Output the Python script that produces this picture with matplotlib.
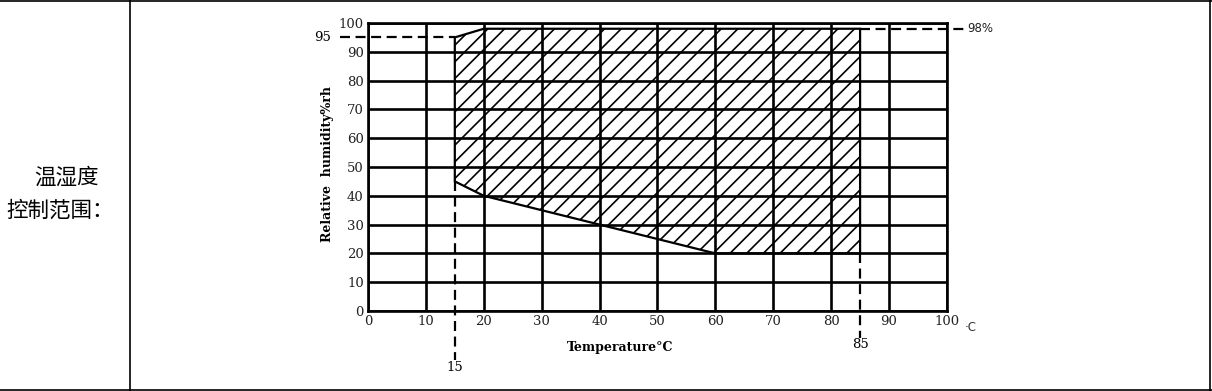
import matplotlib.pyplot as plt
from matplotlib.patches import Polygon

# Range boundary (temperature, humidity)
temp = [15, 15, 20, 85, 85, 60, 40, 20]
rh = [45, 95, 98, 98, 20, 20, 30, 40]

x_ticks = [0, 10, 20, 30, 40, 50, 60, 70, 80, 90, 100]
y_ticks = [0, 10, 20, 30, 40, 50, 60, 70, 80, 90, 100]

row_title = ['温湿度', '控制范围：']

serif = 'DejaVu Serif'

fig = plt.figure(figsize=(12.12, 3.91), dpi=100)

# Table frame (pixel coordinates)
bg = fig.add_axes([0, 0, 1, 1])
bg.set_xlim(0, 1212)
bg.set_ylim(391, 0)
bg.axis('off')
bg.plot([0, 1212], [0.8, 0.8], color='black', lw=1.2)
bg.plot([0, 1212], [389.5, 389.5], color='black', lw=1.2)
bg.plot([1210, 1210], [0, 391], color='black', lw=1.2)
bg.plot([130, 130], [0, 391], color='black', lw=1.2)
bg.text(66, 178, row_title[0], fontsize=15.5, ha='center', va='center',
        family=['Noto Sans CJK SC', 'DejaVu Sans'])
bg.text(60, 211, row_title[1], fontsize=15.5, ha='center', va='center',
        family=['Noto Sans CJK SC', 'DejaVu Sans'])

# Chart
ax = fig.add_axes([0.3036, 0.2046, 0.4777, 0.7366])
ax.set_xlim(0, 100)
ax.set_ylim(0, 100)
ax.set_xticks(x_ticks)
ax.set_yticks(y_ticks)
ax.tick_params(length=0, pad=3, labelsize=9.5, labelcolor='#222222')
for lab in ax.get_xticklabels() + ax.get_yticklabels():
    lab.set_family(serif)
ax.grid(True, color='black', lw=1.9)
ax.set_axisbelow(False)
for s in ax.spines.values():
    s.set_linewidth(1.9)

plt.rcParams['hatch.linewidth'] = 1.2
poly = Polygon(list(zip(temp, rh)), closed=True, facecolor='none',
               edgecolor='black', hatch='//', lw=1.6, zorder=3)
ax.add_patch(poly)

dash = dict(color='black', lw=1.6, ls=(0, (4.5, 2.5)), clip_on=False, zorder=4)
ax.plot([-4.8, 15], [95, 95], **dash)
ax.plot([85, 103.2], [98, 98], **dash)
ax.plot([15, 15], [45, -17], **dash)
ax.plot([85, 85], [20, -9.3], **dash)

ax.text(-6.3, 95, '95', ha='right', va='center', fontsize=9.5, family=serif)
ax.text(103.5, 98, '98%', ha='left', va='center', fontsize=8.5, family='DejaVu Sans',
        color='#222222')
ax.text(15, -19.5, '15', ha='center', va='center', fontsize=9.5, family=serif, clip_on=False)
ax.text(85, -11.8, '85', ha='center', va='center', fontsize=9.5, family=serif, clip_on=False)
ax.text(103.0, -5.6, '·C', ha='left', va='center', fontsize=8.5, family='DejaVu Sans',
        color='#333333')

ax.text(43.5, -12.6, 'Temperature°C', ha='center', va='center', fontsize=9,
        family=serif, fontweight='bold')
ax.text(-7.0, 51, 'Relative  humidity%rh', ha='center', va='center', rotation=90,
        fontsize=9, family=serif, fontweight='bold')

fig.savefig('out.png', dpi=100)
